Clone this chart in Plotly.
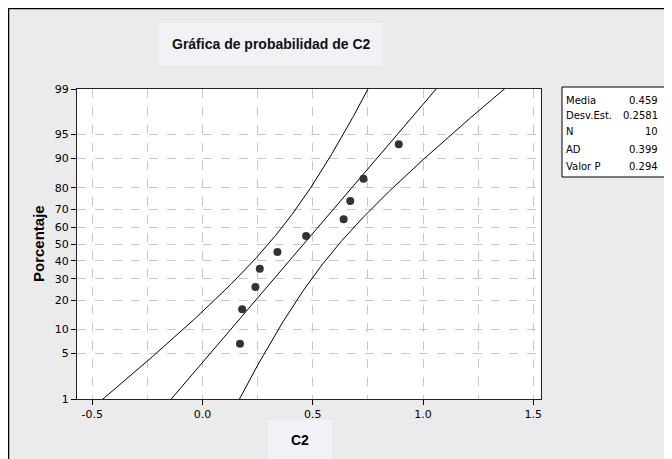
import plotly.graph_objects as go
from statistics import NormalDist

# Data
c2_values = [0.17, 0.18, 0.24, 0.26, 0.34, 0.47, 0.64, 0.67, 0.73, 0.89]
y_tick_pct = [1, 5, 10, 20, 30, 40, 50, 60, 70, 80, 90, 95, 99]
stat_labels = ["Media", "Desv.Est.", "N", "AD", "Valor P"]
stat_values = ["0.459", "0.2581", "10", "0.399", "0.294"]

nd = NormalDist()
n = len(c2_values)
xs = sorted(c2_values)
mean = sum(xs) / n
sd = (sum((v - mean) ** 2 for v in xs) / (n - 1)) ** 0.5
# median ranks (Minitab default)
pct = [(i + 1 - 0.3) / (n + 0.4) for i in range(n)]
zpts = [nd.inv_cdf(p) for p in pct]

zmax = nd.inv_cdf(0.99)
zline = [-zmax * 1.2 + k * (2.4 * zmax) / 300 for k in range(301)]
zc = nd.inv_cdf(0.975)
center = [mean + sd * z for z in zline]
half = [zc * sd * (1.0 / n + z * z / (2.0 * n)) ** 0.5 for z in zline]
lower = [c - h for c, h in zip(center, half)]
upper = [c + h for c, h in zip(center, half)]

fig = go.Figure()
for arr in (upper, center, lower):
    fig.add_trace(go.Scatter(x=arr, y=zline, mode="lines",
                             line=dict(color="black", width=1), hoverinfo="skip"))
fig.add_trace(go.Scatter(x=xs, y=zpts, mode="markers",
                         marker=dict(color="#333333", size=8)))

FONT = "DejaVu Sans"
grid_col = "#c8c8c8"

fig.update_layout(
    width=664, height=451,
    margin=dict(l=69, r=131, t=81, b=60),
    paper_bgcolor="#ebebeb", plot_bgcolor="white",
    showlegend=False,
    font=dict(family=FONT, size=11, color="black"),
)
fig.update_xaxes(
    range=[-0.569, 1.535], tickvals=[-0.5, 0.0, 0.5, 1.0, 1.5],
    ticktext=["-0.5", "0.0", "0.5", "1.0", "1.5"],
    showgrid=True, gridcolor=grid_col, griddash="dash", gridwidth=1,
    minor=dict(dtick=0.25, tick0=0, showgrid=True, gridcolor=grid_col, griddash="dash", ticks=""),
    ticks="outside", ticklen=5, tickcolor="black",
    showline=True, linecolor="#222222", linewidth=1, mirror=True, zeroline=False,
    tickfont=dict(family=FONT, size=11),
)
fig.update_yaxes(
    range=[-zmax, zmax],
    tickvals=[nd.inv_cdf(p / 100.0) for p in y_tick_pct],
    ticktext=[str(p) for p in y_tick_pct],
    showgrid=True, gridcolor=grid_col, griddash="dash", gridwidth=1,
    ticks="outside", ticklen=5, tickcolor="black",
    showline=True, linecolor="#222222", linewidth=1, mirror=True, zeroline=False,
    tickfont=dict(family=FONT, size=11),
)

# helpers: page pixel -> paper coords (plot area spans page x 77..541, y 89..399)
def px(xp):
    return (xp - 77) / 464.0

def py(yp):
    return (399 - yp) / 310.0

shapes = [
    # frame lines (left and top)
    dict(type="line", xref="paper", yref="paper", x0=px(8.5), x1=px(8.5), y0=py(8), y1=py(470),
         line=dict(color="black", width=1.5), layer="below"),
    dict(type="line", xref="paper", yref="paper", x0=px(8), x1=px(700), y0=py(8.5), y1=py(8.5),
         line=dict(color="black", width=1.5), layer="below"),
    # title box
    dict(type="rect", xref="paper", yref="paper", x0=px(159), x1=px(383), y0=py(66), y1=py(23),
         fillcolor="#f2f1f6", line=dict(width=0), layer="below"),
    # x-label box
    dict(type="rect", xref="paper", yref="paper", x0=px(268), x1=px(332), y0=py(470), y1=py(420),
         fillcolor="#f2f1f6", line=dict(width=0), layer="below"),
    # stats box
    dict(type="rect", xref="paper", yref="paper", x0=px(562), x1=px(667), y0=py(177), y1=py(87),
         fillcolor="white", line=dict(color="black", width=1), layer="above"),
]
fig.update_layout(shapes=shapes)

ann = [
    dict(text="<b>Gráfica de probabilidad de C2</b>", x=px(271), y=py(44), xref="paper", yref="paper",
         showarrow=False, font=dict(family="Liberation Sans", size=14, color="#111111"),
         xanchor="center", yanchor="middle"),
    dict(text="<b>Porcentaje</b>", x=px(38), y=py(244), xref="paper", yref="paper",
         showarrow=False, textangle=-90, font=dict(family="Liberation Sans", size=15),
         xanchor="center", yanchor="middle"),
    dict(text="<b>C2</b>", x=px(300), y=py(440), xref="paper", yref="paper",
         showarrow=False, font=dict(family="Liberation Sans", size=14),
         xanchor="center", yanchor="middle"),
]
row_y = [100, 116, 132, 149, 166]
for lab, val, yy in zip(stat_labels, stat_values, row_y):
    ann.append(dict(text=lab, x=px(564), y=py(yy), xref="paper", yref="paper", showarrow=False,
                    xanchor="left", yanchor="middle", font=dict(family=FONT, size=10)))
    ann.append(dict(text=val, x=px(660), y=py(yy), xref="paper", yref="paper", showarrow=False,
                    xanchor="right", yanchor="middle", font=dict(family=FONT, size=10)))
fig.update_layout(annotations=ann)

fig.write_html("out.html")
